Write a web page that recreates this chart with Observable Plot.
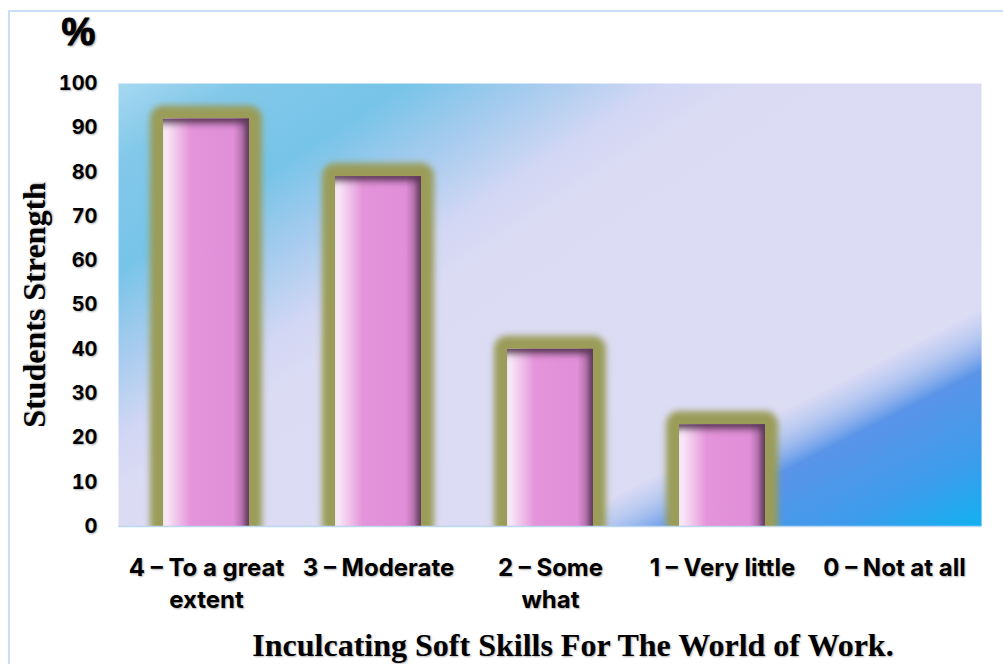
<!DOCTYPE html>
<html><head><meta charset="utf-8">
<script src="https://cdn.jsdelivr.net/npm/d3@7"></script>
<script src="https://cdn.jsdelivr.net/npm/@observablehq/plot@0.6"></script>
<style>
html,body{margin:0;padding:0;background:#fff;}
#wrap{position:relative;width:1003px;height:664px;overflow:hidden;}
#border{position:absolute;left:8px;top:10px;width:1000px;height:660px;border:2px solid #c9def4;box-sizing:border-box;pointer-events:none;}
svg text{text-shadow:1px 1px 2px rgba(0,0,0,0.3);}
</style></head><body><div id="wrap"></div>
<script>
const categories = ["4 – To a great extent", "3 – Moderate", "2 – Some what", "1 – Very little", "0 – Not at all"];
const values = [92, 79, 40, 23, 0];
const tickLabels = ["4 – To a great\nextent", "3 – Moderate", "2 – Some\nwhat", "1 – Very little", "0 – Not at all"];
const yTicks = [0, 10, 20, 30, 40, 50, 60, 70, 80, 90, 100];
const yLabel = "Students Strength";
const unitLabel = "%";
const title = "Inculcating Soft Skills For The World of Work.";

const data = categories.map((c, i) => ({category: c, value: values[i], label: tickLabels[i]}));

const chart = Plot.plot({
  width: 1003, height: 664,
  marginLeft: 118, marginRight: 22, marginTop: 83, marginBottom: 138,
  style: {background: "transparent", overflow: "visible"},
  x: {domain: categories, paddingInner: 0.5, paddingOuter: 0.25, axis: null},
  y: {domain: [0, 100], axis: null},
  marks: [
    Plot.frame({fill: "url(#bg1)", stroke: "none"}),
    Plot.frame({fill: "url(#bg2)", stroke: "none"}),
    Plot.barY(data, {filter: d => d.value > 0, x: "category", y: "value", fill: "#9a9c58", stroke: "#9a9c58", strokeWidth: 26, strokeLinejoin: "round", clip: true, ariaLabel: "glow"}),
    Plot.barY(data, {x: "category", y: "value", fill: "url(#barGrad)", ariaLabel: "bars"}),
    Plot.ruleY([0], {stroke: "#bcd8f0", strokeWidth: 1.5}),
    Plot.axisY(yTicks, {tickSize: 0, tickPadding: 21, fontSize: 20, fontWeight: 700, fontFamily: "Inter, sans-serif", label: null}),
    Plot.text(data, {x: "category", text: "label", frameAnchor: "bottom", lineAnchor: "top", textAnchor: "middle", dy: 26, lineHeight: 1.35, fontSize: 24, fontWeight: 700, fontFamily: "Inter, sans-serif", fill: "#000"}),
    Plot.text([unitLabel], {frameAnchor: "top-left", textAnchor: "middle", lineAnchor: "middle", dx: -40, dy: -51, fontSize: 38, fontWeight: 700, fontFamily: "'Liberation Sans Narrow', 'Liberation Sans', sans-serif", fill: "#000", stroke: "#000", strokeWidth: 1}),
    Plot.text([yLabel], {frameAnchor: "left", textAnchor: "middle", lineAnchor: "middle", rotate: -90, dx: -84, fontSize: 32, fontWeight: 700, fontFamily: "'Liberation Serif', serif", fill: "#000"}),
    Plot.text([title], {frameAnchor: "bottom", textAnchor: "middle", lineAnchor: "middle", dx: 23, dy: 119, fontSize: 32, fontWeight: 700, fontFamily: "'Liberation Serif', serif", fill: "#000"})
  ]
});

const s = d3.select(chart);
s.insert("defs", ":first-child").html(`
  <linearGradient id="bg1" gradientUnits="userSpaceOnUse" x1="0" y1="0" x2="545" y2="838">
    <stop offset="0.134" stop-color="#a6d8f0"/>
    <stop offset="0.2" stop-color="#82c8ea"/>
    <stop offset="0.29" stop-color="#76c4e8"/>
    <stop offset="0.36" stop-color="#a4cbee"/>
    <stop offset="0.433" stop-color="#d2d7f4"/>
    <stop offset="0.48" stop-color="#dbdbf4"/>
    <stop offset="1" stop-color="#dcdcf4"/>
  </linearGradient>
  <linearGradient id="bg2" gradientUnits="userSpaceOnUse" x1="0" y1="0" x2="454" y2="891">
    <stop offset="0" stop-color="#a8c0f0" stop-opacity="0"/>
    <stop offset="0.72" stop-color="#a8c0f0" stop-opacity="0"/>
    <stop offset="0.74" stop-color="#a8c0f0" stop-opacity="0.6"/>
    <stop offset="0.775" stop-color="#5a94e8" stop-opacity="1"/>
    <stop offset="0.85" stop-color="#3d9cec" stop-opacity="1"/>
    <stop offset="0.915" stop-color="#10b2f0" stop-opacity="1"/>
  </linearGradient>
  <linearGradient id="barGrad" x1="0" y1="0" x2="1" y2="0">
    <stop offset="0" stop-color="#fdf4fc"/>
    <stop offset="0.12" stop-color="#f3d0ef"/>
    <stop offset="0.32" stop-color="#e494da"/>
    <stop offset="0.82" stop-color="#e08fd8"/>
    <stop offset="0.92" stop-color="#b672ae"/>
    <stop offset="1" stop-color="#7c4e78"/>
  </linearGradient>
  <filter id="glowBlur" x="-10%" y="-10%" width="120%" height="120%">
    <feGaussianBlur stdDeviation="3"/>
  </filter>
  <filter id="innerTop" x="-5%" y="-10%" width="110%" height="120%">
    <feFlood flood-color="#5e3a5c" result="f"/>
    <feComposite in="f" in2="SourceAlpha" operator="out" result="outside"/>
    <feOffset in="outside" dx="-3" dy="6" result="off"/>
    <feGaussianBlur in="off" stdDeviation="3" result="blur"/>
    <feComposite in="blur" in2="SourceAlpha" operator="in" result="shadow"/>
    <feMerge><feMergeNode in="SourceGraphic"/><feMergeNode in="shadow"/></feMerge>
  </filter>
`);
s.selectAll("g").each(function() {
  const f = this.getAttribute("fill");
  if (f === "#9a9c58") this.setAttribute("filter", "url(#glowBlur)");
  if (f === "url(#barGrad)") this.setAttribute("filter", "url(#innerTop)");
});

const wrap = document.getElementById("wrap");
wrap.appendChild(chart);
const border = document.createElement("div");
border.id = "border";
wrap.appendChild(border);
</script>
</body></html>
